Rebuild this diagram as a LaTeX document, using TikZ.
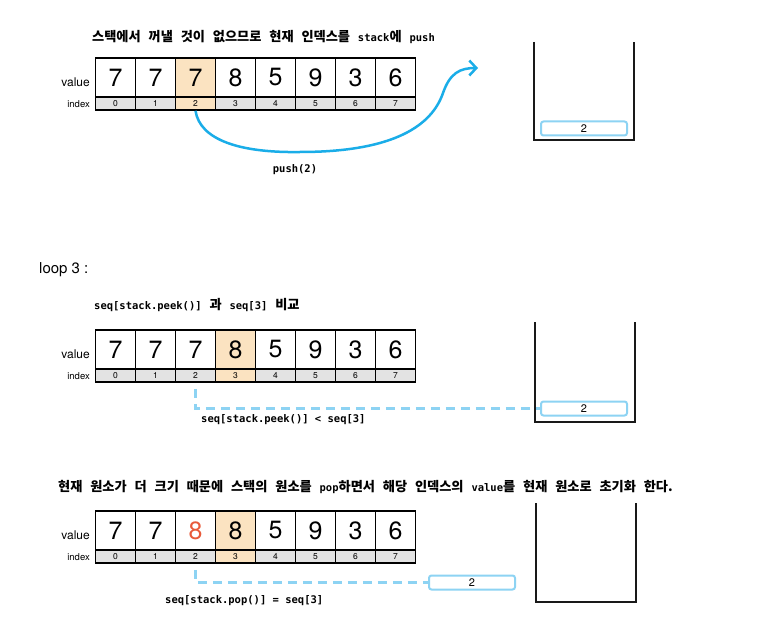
\documentclass[tikz,border=0pt]{standalone}
\usepackage{fontspec}
\setmainfont{TeX Gyre Heros}
\setmonofont{DejaVu Sans Mono}
\newfontfamily\cjk[WordSpace=2.6]{Noto Sans CJK KR}
\usepackage{xcolor}
\usetikzlibrary{arrows.meta,positioning,calc}

\definecolor{curorange}{HTML}{FBE3C1}
\definecolor{idxgray}{HTML}{E3E3E3}
\definecolor{newred}{HTML}{E85A3A}
\definecolor{pushblue}{HTML}{1AADE8}
\definecolor{peekblue}{HTML}{8DD3F3}

\newcommand{\mono}[1]{{\ttfamily\bfseries\fontsize{10.5}{12}\selectfont #1}}

\begin{document}
\begin{tikzpicture}[
        x=1pt, y=-1pt,
        valcell/.style={
            draw,
            line width=1.6pt,
            fill=white,
            minimum width=40pt,
            minimum height=39pt,
            inner sep=0pt,
            font=\fontsize{25}{25}\selectfont
        },
        idxcell/.style={
            draw,
            line width=1.6pt,
            fill=idxgray,
            minimum width=40pt,
            minimum height=13pt,
            inner sep=0pt,
            font=\fontsize{8.5}{9}\selectfont
        },
        nrm/.style={},
        cur/.style={fill=curorange},
        new/.style={text=newred},
        vallabel/.style={anchor=east, inner sep=0pt, font=\fontsize{12}{12}\selectfont},
        idxlabel/.style={anchor=east, inner sep=0pt, font=\fontsize{9.5}{10}\selectfont},
        title/.style={anchor=west, inner sep=0pt, font=\cjk\bfseries\fontsize{13.2}{15}\selectfont},
        codelabel/.style={anchor=west, inner sep=0pt, font=\ttfamily\bfseries\fontsize{10.5}{12}\selectfont},
        elem/.style={
            draw=peekblue,
            line width=2pt,
            rounded corners=2.5pt,
            fill=white,
            minimum width=86pt,
            minimum height=14pt,
            inner sep=0pt,
            font=\fontsize{11}{11}\selectfont
        },
        wall/.style={line width=2pt, black!90},
        pusharrow/.style={
            -{Straight Barb[length=7pt,width=15pt]},
            line width=2.5pt,
            draw=pushblue
        },
        peekline/.style={
            draw=peekblue,
            line width=2.5pt,
            dash pattern=on 9pt off 6pt,
            shorten <=6pt
        }
    ]

        \fill[white] (0,0) rectangle (781,631);

        % --- push(2) ---
        \node[title] (t1) at (92,37) {스택에서 꺼낼 것이 없으므로 현재 인덱스를 \mono{stack}에 \mono{push}};

        \foreach \v/\vs/\is [count=\i from 0] in {7/nrm/nrm,7/nrm/nrm,7/cur/cur,8/nrm/nrm,5/nrm/nrm,9/nrm/nrm,3/nrm/nrm,6/nrm/nrm}{
            \node[valcell,\vs] (a1v\i) at ({115.5+40*\i},77.5) {\v};
            \node[idxcell,\is] (a1i\i) at ({115.5+40*\i},103.5) {\i};
        }
        \node[vallabel] (a1val) at (90,82) {value};
        \node[idxlabel] (a1idx) at (90,104) {index};

        \draw[wall] (534,42) |- (634,140) -- (634,42);
        \node[elem] (s1top) at (584,128.5) {2};

        \coordinate (pushend) at (478,68);
        \draw[pusharrow] (a1i2.south) .. controls (200,140) and (240,153) .. (300,152)
            .. controls (395,152) and (432,125) .. (443,93)
            .. controls (450,73) and (460,68) .. (pushend);
        \node[codelabel, anchor=center] (pushlbl) at (295,170) {push(2)};

        % --- loop 3 ---
        \node[anchor=west, inner sep=0pt, font=\fontsize{15}{15}\selectfont] (loop) at (39,270) {loop 3 :};

        \node[title] (t2) at (94,305) {\mono{seq[stack.peek()]} 과 \mono{seq[3]} 비교};

        \foreach \v/\vs/\is [count=\i from 0] in {7/nrm/nrm,7/nrm/nrm,7/nrm/nrm,8/cur/cur,5/nrm/nrm,9/nrm/nrm,3/nrm/nrm,6/nrm/nrm}{
            \node[valcell,\vs] (a2v\i) at ({115.5+40*\i},349.5) {\v};
            \node[idxcell,\is] (a2i\i) at ({115.5+40*\i},375.5) {\i};
        }
        \node[vallabel] (a2val) at (90,354) {value};
        \node[idxlabel] (a2idx) at (90,376) {index};

        \draw[wall] (535,322) |- (635,422) -- (635,322);
        \node[elem] (s2top) at (584,408.5) {2};

        \draw[peekline] (a2i2.south) |- (s2top.west);
        \node[codelabel] (peeklbl) at (201,420) {seq[stack.peek()] < seq[3]};

        % --- pop ---
        \node[title] (t3) at (58,487) {현재 원소가 더 크기 때문에 스택의 원소를 \mono{pop}하면서 해당 인덱스의 \mono{value}를 현재 원소로 초기화 한다.};

        \foreach \v/\vs/\is [count=\i from 0] in {7/nrm/nrm,7/nrm/nrm,8/new/nrm,8/cur/cur,5/nrm/nrm,9/nrm/nrm,3/nrm/nrm,6/nrm/nrm}{
            \node[valcell,\vs] (a3v\i) at ({115.5+40*\i},530.5) {\v};
            \node[idxcell,\is] (a3i\i) at ({115.5+40*\i},556.5) {\i};
        }
        \node[vallabel] (a3val) at (90,535) {value};
        \node[idxlabel] (a3idx) at (90,557) {index};

        \draw[wall] (536,503) |- (636,602) -- (636,503);
        \node[elem] (popped) at (472,582.5) {2};

        \draw[peekline] (a3i2.south) |- (popped.west);
        \node[codelabel] (poplbl) at (165,601) {seq[stack.pop()] = seq[3]};

    \end{tikzpicture}
\end{document}
